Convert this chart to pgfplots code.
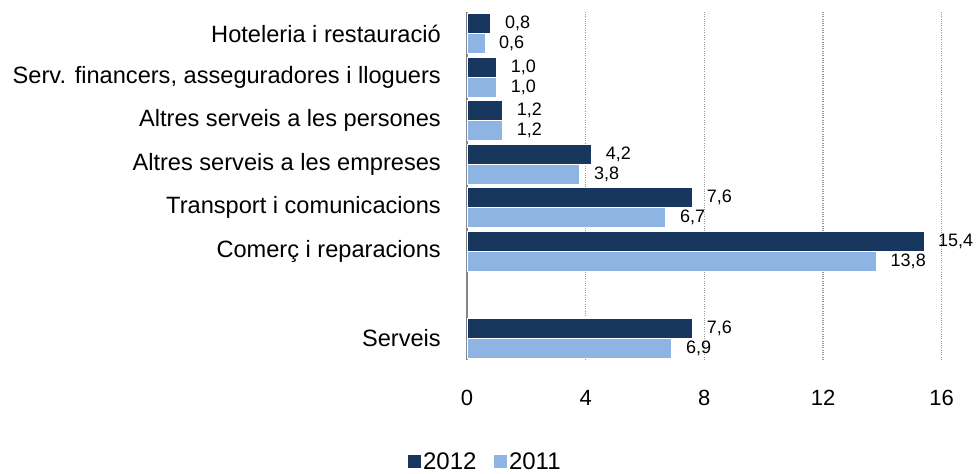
\documentclass[border=0pt]{standalone}
\usepackage{pgfplots}
\pgfplotsset{compat=1.18}
\usepackage{fontspec}
\setmainfont{Liberation Sans}
\definecolor{dark}{HTML}{17375E}
\definecolor{light}{HTML}{8DB4E2}
\definecolor{axgray}{HTML}{868686}
\definecolor{gridgray}{HTML}{9A9A9A}
\pgfplotsset{square legend/.style={legend image code/.code={\fill[##1] (0pt,-7pt) rectangle (14pt,7pt);}}}
\begin{document}
\begin{tikzpicture}
\path[use as bounding box] (0,0) rectangle (978pt,474pt);
\begin{axis}[
  at={(467pt,114pt)}, anchor=south west,
  scale only axis, width=474.7pt, height=348pt,
  xmin=0, xmax=16, ymin=-0.5, ymax=7.5,
  enlargelimits=false, clip=false,
  xbar, bar width=0.46,
  axis lines*=left,
  x axis line style={draw=none},
  y axis line style={draw=axgray, line width=1.6pt},
  xtick={0,4,8,12,16},
  ytick={0,2,3,4,5,6,7},
  yticklabels={Serveis,Comerç i reparacions,Transport i comunicacions,Altres serveis a les empreses,Altres serveis a les persones,{Serv. financers, asseguradores i lloguers},Hoteleria i restauració},
  major tick length=0pt,
  xmajorgrids,
  grid style={draw=gridgray, line width=1.2pt, dash pattern=on 1pt off 1.3pt},
  /pgf/number format/assume math mode=true,
  xticklabel style={font=\fontsize{22}{24}\selectfont, inner sep=0pt, anchor=north, yshift=-30pt},
  yticklabel style={font=\fontsize{23.6}{26}\selectfont, inner sep=0pt, anchor=east, xshift=-26pt},
  nodes near coords,
  every node near coord/.append style={font=\fontsize{18}{19}\selectfont, anchor=west, inner sep=0pt, xshift=14pt,
    /pgf/number format/.cd, use comma, fixed, fixed zerofill, precision=1},
  legend columns=2,
  legend style={draw=none, fill=none, at={(0.037,-0.292)}, anchor=center,
    font=\fontsize{24}{26}\selectfont,
    nodes={inner sep=1.5pt},
    /tikz/every even column/.append style={column sep=15pt}},
  square legend,
]
\addplot[fill=dark, draw=white, line width=0.6pt, bar shift=0.23] coordinates {
(7.6,0) (15.4,2) (7.6,3) (4.2,4) (1.2,5) (1.0,6) (0.8,7)};
\addlegendentry{2012}
\addplot[fill=light, draw=white, line width=0.6pt, bar shift=-0.23] coordinates {
(6.9,0) (13.8,2) (6.7,3) (3.8,4) (1.2,5) (1.0,6) (0.6,7)};
\addlegendentry{2011}
\end{axis}
\end{tikzpicture}
\end{document}
